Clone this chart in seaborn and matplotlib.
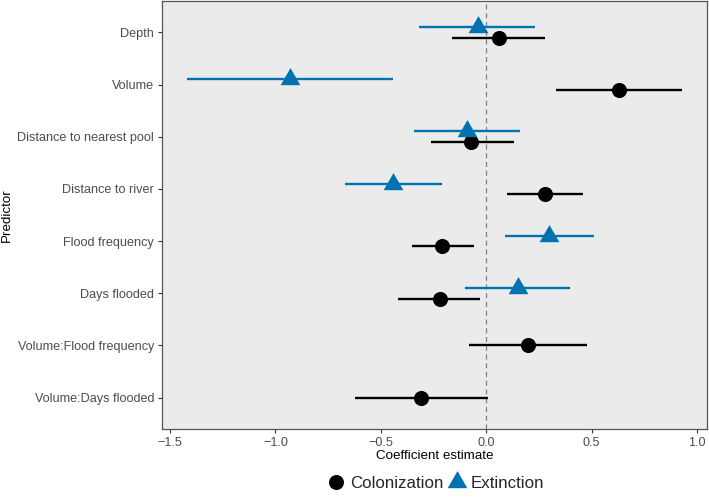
import numpy as np
import pandas as pd
import matplotlib
matplotlib.use("Agg")
import matplotlib.pyplot as plt
from matplotlib.lines import Line2D
import seaborn as sns

# Coefficient estimates
predictors = ["Depth", "Volume", "Distance to nearest pool", "Distance to river",
              "Flood frequency", "Days flooded", "Volume:Flood frequency",
              "Volume:Days flooded"]

col_est = [0.06, 0.63, -0.07, 0.28, -0.21, -0.22, 0.20, -0.31]
col_low = [-0.16, 0.33, -0.26, 0.10, -0.35, -0.42, -0.08, -0.62]
col_high = [0.28, 0.93, 0.13, 0.46, -0.06, -0.03, 0.48, 0.01]

ext_predictors = predictors[:6]
ext_est = [-0.04, -0.93, -0.09, -0.44, 0.30, 0.15]
ext_low = [-0.32, -1.42, -0.34, -0.67, 0.09, -0.10]
ext_high = [0.23, -0.44, 0.16, -0.21, 0.51, 0.40]

col_df = pd.DataFrame({"Predictor": predictors, "estimate": col_est,
                       "low": col_low, "high": col_high, "model": "Colonization"})
ext_df = pd.DataFrame({"Predictor": ext_predictors, "estimate": ext_est,
                       "low": ext_low, "high": ext_high, "model": "Extinction"})
df = pd.concat([col_df, ext_df], ignore_index=True)

# dodge the two models when a predictor has both
pos = {p: i for i, p in enumerate(predictors)}
n_models = df.groupby("Predictor")["model"].transform("count")
shift = np.where(df["model"] == "Extinction", -0.1, 0.1)
df["y"] = df["Predictor"].map(pos) + np.where(n_models > 1, shift, 0.0)

colors = {"Colonization": "black", "Extinction": "#0072B2"}
tri = np.array([[-1.0, -0.577], [1.0, -0.577], [0.0, 1.155]])
markers = {"Colonization": "o", "Extinction": tri}
sizes = {"Colonization": 118, "Extinction": 270}

sns.set_style("white")
plt.rcParams["font.family"] = ["Liberation Sans", "DejaVu Sans"]

fig = plt.figure(figsize=(7.09, 4.97), dpi=100)
ax = fig.add_axes([0.2285, 0.1368, 0.7687, 0.8612])
ax.set_facecolor("#EBEBEB")

ax.axvline(0, color="#7F7F7F", lw=0.9, ls=(0, (4, 3)), zorder=1)

for model in ["Colonization", "Extinction"]:
    sub = df[df["model"] == model]
    ax.hlines(sub["y"], sub["low"], sub["high"], color=colors[model], lw=1.7, zorder=2)
    sns.scatterplot(data=sub, x="estimate", y="y", ax=ax, color=colors[model],
                    marker=markers[model], s=sizes[model], linewidth=0,
                    zorder=3, legend=False)

lo, hi = min(df["low"].min(), df["estimate"].min()), max(df["high"].max(), df["estimate"].max())
pad = 0.05 * (hi - lo)
ax.set_xlim(lo - pad, hi + pad)
ax.set_ylim(len(predictors) - 1 + 0.6, -0.6)

ax.set_yticks(range(len(predictors)))
ax.set_yticklabels(predictors)
ax.set_xticks([-1.5, -1.0, -0.5, 0.0, 0.5, 1.0])
ax.set_xticklabels(["\u22121.5", "\u22121.0", "\u22120.5", "0.0", "0.5", "1.0"])
ax.tick_params(axis="both", which="both", direction="out", length=3.2, width=0.8,
               color="#333333", labelcolor="#4D4D4D", labelsize=9.1, pad=2.5,
               left=True, bottom=True)
ax.grid(False)
for sp in ax.spines.values():
    sp.set_visible(True)
    sp.set_color("#555555")
    sp.set_linewidth(0.9)

ax.set_xlabel("Coefficient estimate", fontsize=9.6, color="black", labelpad=0.5)
ax.set_ylabel("Predictor", fontsize=9.6, color="black", labelpad=3)

handles = [
    Line2D([], [], ls="none", marker="o", color="black", markersize=10.8, markeredgewidth=0),
    Line2D([], [], ls="none", marker=tri, color="#0072B2", markersize=16.4, markeredgewidth=0),
]
fig.legend(handles, ["Colonization", "Extinction"], loc="center",
           bbox_to_anchor=(436 / 709, 1 - 483 / 497), ncol=2, frameon=False,
           fontsize=12.2, handlelength=1.0, handletextpad=0.3, columnspacing=0.3)

fig.savefig("out.png", dpi=100)
